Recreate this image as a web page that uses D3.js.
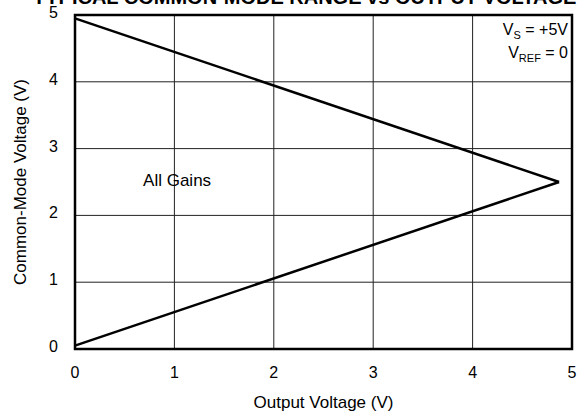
<!DOCTYPE html>
<html>
<head>
<meta charset="utf-8">
<script src="https://cdn.jsdelivr.net/npm/d3@7"></script>
<style>
  body { margin: 0; background: #fff; }
  svg { display: block; font-family: "Liberation Sans", Arial, sans-serif; }
</style>
</head>
<body>
<svg width="579" height="417"></svg>
<script>
// boundary of the common-mode range (output V, common-mode V)
const upperEdge = [[0, 4.95], [4.87, 2.5]];
const lowerEdge = [[0, 0.05], [4.87, 2.5]];
const xTicks = [0, 1, 2, 3, 4, 5];
const yTicks = [0, 1, 2, 3, 4, 5];

const svg = d3.select("svg");
const margin = { left: 75, right: 7, top: 15, bottom: 68 };
const w = 579 - margin.left - margin.right;
const h = 417 - margin.top - margin.bottom;

const x = d3.scaleLinear().domain([0, 5]).range([0, w]);
const y = d3.scaleLinear().domain([0, 5]).range([h, 0]);

// title, mostly cut off at the top of the picture
svg.append("text")
  .attr("x", 33).attr("y", 4)
  .attr("font-size", 20).attr("font-weight", "bold")
  .text("TYPICAL COMMON-MODE RANGE vs OUTPUT VOLTAGE");

const g = svg.append("g").attr("transform", `translate(${margin.left},${margin.top})`);

// grid
g.selectAll(".gx").data(xTicks.slice(1, -1)).enter().append("line")
  .attr("x1", d => x(d)).attr("x2", d => x(d))
  .attr("y1", 0).attr("y2", h)
  .attr("stroke", "#222").attr("stroke-width", 1);
g.selectAll(".gy").data(yTicks.slice(1, -1)).enter().append("line")
  .attr("x1", 0).attr("x2", w)
  .attr("y1", d => y(d)).attr("y2", d => y(d))
  .attr("stroke", "#222").attr("stroke-width", 1);

// tick labels
g.selectAll(".tx").data(xTicks).enter().append("text")
  .attr("x", d => x(d)).attr("y", h + 29)
  .attr("text-anchor", "middle").attr("font-size", 16)
  .text(d => d);
g.selectAll(".ty").data(yTicks).enter().append("text")
  .attr("x", -17).attr("y", d => y(d) + 3)
  .attr("text-anchor", "end").attr("font-size", 16)
  .text(d => d);

// frame
g.append("rect")
  .attr("width", w).attr("height", h)
  .attr("fill", "none").attr("stroke", "#000").attr("stroke-width", 2.5);

// curves
const line = d3.line().x(d => x(d[0])).y(d => y(d[1]));
[upperEdge, lowerEdge].forEach(d => {
  g.append("path").attr("d", line(d))
    .attr("fill", "none").attr("stroke", "#000").attr("stroke-width", 2.5);
});

// annotations
g.append("text").attr("x", x(0.685)).attr("y", y(2.5) + 4)
  .attr("font-size", 17).text("All Gains");

const ann = g.append("text").attr("text-anchor", "end").attr("font-size", 16);
ann.append("tspan").attr("x", w - 4).attr("y", 20).text("V");
ann.append("tspan").attr("font-size", 11).attr("dy", 4).text("S");
ann.append("tspan").attr("dy", -4).text(" = +5V");
const ann2 = g.append("text").attr("text-anchor", "end").attr("font-size", 16);
ann2.append("tspan").attr("x", w - 4).attr("y", 43).text("V");
ann2.append("tspan").attr("font-size", 11).attr("dy", 4).text("REF");
ann2.append("tspan").attr("dy", -4).text(" = 0");

// axis titles
svg.append("text")
  .attr("x", margin.left + w / 2).attr("y", 408)
  .attr("text-anchor", "middle").attr("font-size", 17)
  .text("Output Voltage (V)");
svg.append("text")
  .attr("transform", `translate(26,${margin.top + h / 2}) rotate(-90)`)
  .attr("text-anchor", "middle").attr("font-size", 17)
  .text("Common-Mode Voltage (V)");
</script>
</body>
</html>
